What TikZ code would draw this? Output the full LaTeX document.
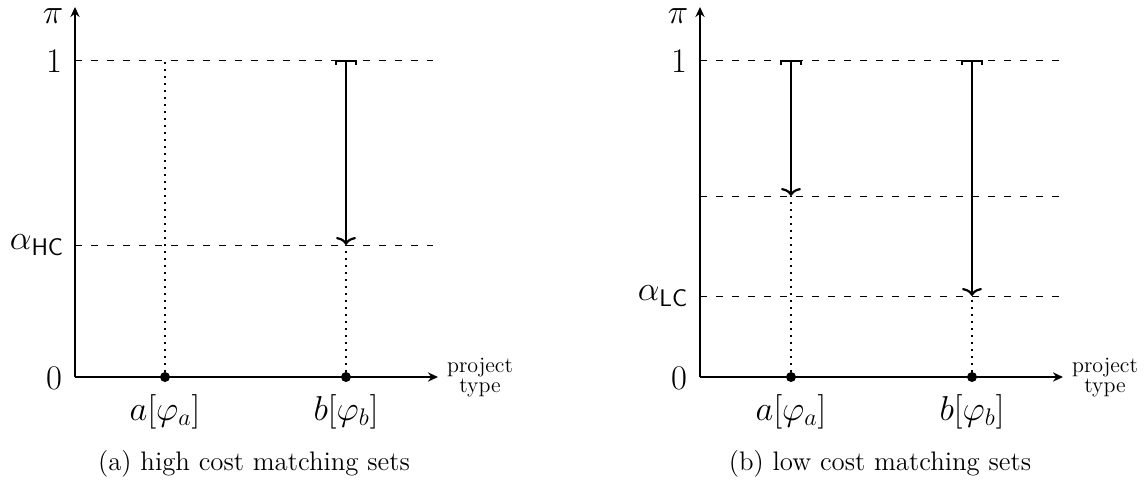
\documentclass[tikz,border=0pt]{standalone}
\usetikzlibrary{arrows.meta}
\begin{document}
\begin{tikzpicture}[x=0.5pt,y=-0.5pt,
  axis/.style={line width=1pt,-{Stealth[length=5pt,width=4.6pt]}},
  guide/.style={line width=0.45pt,dash pattern=on 3.7pt off 4.3pt},
  dotline/.style={line width=0.8pt,dash pattern=on 0.8pt off 2.7pt},
  spanarrow/.style={line width=1.1pt,{Bracket[width=11pt,length=1.8pt]}-{To[width=10pt,length=4pt]}},
  ptmark/.style={circle,fill,inner sep=0pt,minimum size=5pt},
  lab/.style={font=\fontsize{17}{20}\selectfont,inner sep=0pt},
  small/.style={font=\fontsize{11}{13}\selectfont,inner sep=0pt,anchor=base},
  capt/.style={font=\fontsize{13.4}{16}\selectfont,inner sep=0pt,anchor=base}]
\useasboundingbox (0,0) rectangle (1147,489);

% ---------- left panel ----------
\coordinate (O1) at (75,377);
\coordinate (Y1) at (75,7);
\coordinate (X1) at (438,377);
\coordinate (T1) at (433,60);
\coordinate (H1) at (433,245);
\coordinate (L1) at (75,60);
\coordinate (M1) at (75,245);
\draw[guide] (L1) -- (T1);
\draw[guide] (M1) -- (H1);
\node[ptmark] (a1) at (165,377) {};
\node[ptmark] (b1) at (346,377) {};
\coordinate (a1top) at (165,60);
\coordinate (b1top) at (346,60);
\coordinate (b1low) at (346,245);
\draw[dotline] (a1) -- (a1top);
\draw[dotline] (b1) -- (b1low);
\draw[spanarrow] (b1top) -- (b1low);
\draw[axis] (O1) -- (Y1);
\draw[axis] (O1) -- (X1);
\node[lab] (pi1) at (53,16) {$\pi$};
\node[lab] (one1) at (54,61) {$1$};
\node[lab] (zero1) at (54,378) {$0$};
\node[lab] (al1) at (37,245) {$\alpha_{\mathsf{HC}}$};
\node[lab,anchor=base] (la1) at (165,420) {$a[\varphi_a]$};
\node[lab,anchor=base] (lb1) at (346,420) {$b[\varphi_b]$};
\node[small] (pr1) at (480,372) {project};
\node[small] (ty1) at (480,392) {type};
\node[capt] (cap1) at (254,470) {(a) high cost matching sets};

% ---------- right panel ----------
\coordinate (O2) at (700,377);
\coordinate (Y2) at (700,7);
\coordinate (X2) at (1063,377);
\coordinate (T2) at (1059,60);
\coordinate (U2) at (1059,196);
\coordinate (V2) at (1059,296);
\coordinate (L2) at (700,60);
\coordinate (M2) at (700,196);
\coordinate (N2) at (700,296);
\draw[guide] (L2) -- (T2);
\draw[guide] (M2) -- (U2);
\draw[guide] (N2) -- (V2);
\node[ptmark] (a2) at (791,377) {};
\node[ptmark] (b2) at (972,377) {};
\coordinate (a2top) at (791,60);
\coordinate (a2low) at (791,196);
\coordinate (b2top) at (972,60);
\coordinate (b2low) at (972,296);
\draw[dotline] (a2) -- (a2low);
\draw[dotline] (b2) -- (b2low);
\draw[spanarrow] (a2top) -- (a2low);
\draw[spanarrow] (b2top) -- (b2low);
\draw[axis] (O2) -- (Y2);
\draw[axis] (O2) -- (X2);
\node[lab] (pi2) at (678,16) {$\pi$};
\node[lab] (one2) at (679,61) {$1$};
\node[lab] (zero2) at (679,378) {$0$};
\node[lab] (al2) at (663,296) {$\alpha_{\mathsf{LC}}$};
\node[lab,anchor=base] (la2) at (791,420) {$a[\varphi_a]$};
\node[lab,anchor=base] (lb2) at (972,420) {$b[\varphi_b]$};
\node[small] (pr2) at (1105,372) {project};
\node[small] (ty2) at (1105,392) {type};
\node[capt] (cap2) at (880,470) {(b) low cost matching sets};
\end{tikzpicture}
\end{document}
